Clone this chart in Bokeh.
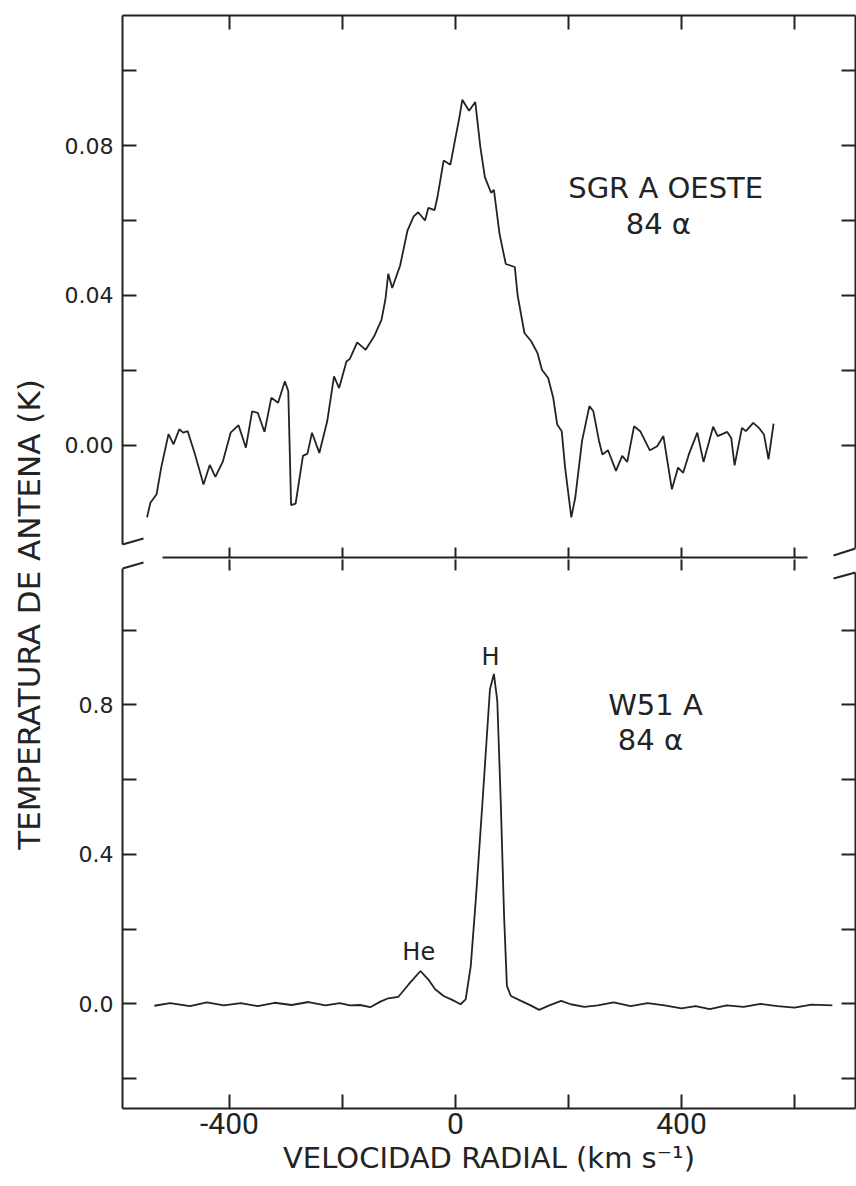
import math
from bokeh.plotting import figure
from bokeh.layouts import row, column
from bokeh.models import Range1d, FixedTicker, LinearAxis, NumeralTickFormatter
from bokeh.core.properties import value
from bokeh.embed import file_html
from bokeh.resources import INLINE

# ---------------- data ----------------
# SGR A OESTE, 84 alpha  (radial velocity km/s, antenna temperature K)
sgr_v = [-546, -540, -529, -521, -508, -499, -489, -482, -474, -461, -446, -435, -425, -412,
         -398, -384, -371, -360, -350, -338, -326, -314, -302, -296, -291, -283, -270, -262,
         -254, -241, -227, -215, -206, -193, -187, -174, -159, -144, -131, -124, -119, -112,
         -98, -85, -74, -66, -54, -48, -37, -32, -21, -9, -1, 7, 12, 24, 35, 44, 52, 63, 68,
         78, 89, 97, 105, 110, 116, 122, 134, 145, 153, 164, 173, 180, 188, 194, 205, 212,
         224, 237, 244, 254, 260, 270, 284, 295, 304, 316, 327, 344, 357, 368, 383, 394, 403,
         413, 428, 439, 456, 464, 481, 488, 494, 507, 514, 527, 537, 546, 554, 563]
sgr_t = [-0.0192, -0.0153, -0.0130, -0.0060, 0.0030, 0.0003, 0.0043, 0.0034, 0.0038, -0.0024,
         -0.0104, -0.0052, -0.0084, -0.0044, 0.0034, 0.0054, -0.0006, 0.0091, 0.0087, 0.0036,
         0.0127, 0.0114, 0.0171, 0.0145, -0.0159, -0.0155, -0.0028, -0.0022, 0.0034, -0.0020,
         0.0065, 0.0184, 0.0153, 0.0224, 0.0231, 0.0275, 0.0255, 0.0291, 0.0335, 0.0390,
         0.0458, 0.0420, 0.0480, 0.0573, 0.0611, 0.0622, 0.0600, 0.0634, 0.0628, 0.0662,
         0.0760, 0.0749, 0.0813, 0.0876, 0.0922, 0.0893, 0.0916, 0.0796, 0.0716, 0.0674,
         0.0682, 0.0564, 0.0484, 0.0480, 0.0476, 0.0400, 0.0350, 0.0300, 0.0278, 0.0247,
         0.0202, 0.0180, 0.0127, 0.0056, 0.0038, -0.0059, -0.0192, -0.0139, 0.0012, 0.0105,
         0.0091, 0.0012, -0.0024, -0.0013, -0.0068, -0.0028, -0.0044, 0.0051, 0.0038, -0.0013,
         -0.0002, 0.0025, -0.0117, -0.0059, -0.0073, -0.0024, 0.0034, -0.0044, 0.0050, 0.0025,
         0.0036, 0.0020, -0.0053, 0.0047, 0.0038, 0.0060, 0.0047, 0.0029, -0.0037, 0.0058]

# W51 A, 84 alpha
w51_v = [-533, -505, -470, -440, -410, -380, -350, -320, -290, -260, -230, -205, -187, -169,
         -151, -133, -119, -101, -83, -62, -48, -36, -21, -5, 9, 18, 27, 36, 48, 61, 68, 74,
         80, 86, 91, 98, 116, 133, 148, 166, 187, 204, 228, 252, 280, 310, 340, 370, 400, 425,
         450, 480, 510, 540, 570, 600, 630, 667]
w51_t = [-0.005, 0.002, -0.006, 0.004, -0.004, 0.002, -0.006, 0.003, -0.003, 0.005, -0.004,
         0.002, -0.004, -0.003, -0.009, 0.006, 0.015, 0.019, 0.052, 0.088, 0.065, 0.039, 0.021,
         0.010, -0.001, 0.012, 0.101, 0.280, 0.545, 0.842, 0.883, 0.810, 0.545, 0.235, 0.048,
         0.021, 0.008, -0.004, -0.016, -0.004, 0.008, -0.001, -0.008, -0.004, 0.004, -0.006,
         0.002, -0.004, -0.012, -0.006, -0.014, -0.004, -0.008, 0.000, -0.006, -0.010, -0.002,
         -0.004]

x_ticks = [-400, -200, 0, 200, 400, 600]
x_major = [-400, 0, 400]
x_minor = [-200, 200, 600]
top_major = [0.0, 0.04, 0.08]
top_minor = [0.02, 0.06, 0.10]
top_all = [0.0, 0.02, 0.04, 0.06, 0.08, 0.10]
bot_major = [0.0, 0.4, 0.8]
bot_minor = [-0.2, 0.2, 0.6, 1.0]
bot_all = [-0.2, 0.0, 0.2, 0.4, 0.6, 0.8, 1.0]

title_top = ["SGR A OESTE", "84 \u03b1"]
title_bot = ["W51 A", "84 \u03b1"]
line_labels = ["He", "H"]
x_label = "VELOCIDAD RADIAL (km s\u207b\u00b9)"
y_label = "TEMPERATURA DE ANTENA (K)"

# ---------------- geometry / style ----------------
X0, X1 = -589.4, 708.0
T0, T1 = -0.0299, 0.1147
B0, B1 = -0.28, 1.1893
INK = "#232323"
FONT = "DejaVu Sans"
NARROW = "Roboto"
W_MAIN = 806
PX_X = (X1 - X0) / 733.0          # data units per pixel in x
PX_T = (T1 - T0) / 542.0
PX_B = (B1 - B0) / 551.0


def axis(ticks, minor=None, tick_in=14, line=True, labels=False, fmt=None, bounds="auto",
         font=FONT, size="22px", standoff=9):
    if labels:
        ticker = FixedTicker(ticks=ticks, minor_ticks=minor or [])
    else:
        # unlabeled axes: draw every tick as a (label-free) minor tick
        ticker = FixedTicker(ticks=[], minor_ticks=ticks)
    ax = LinearAxis(ticker=ticker, bounds=bounds)
    ax.axis_line_color = INK if line else None
    ax.axis_line_width = 2
    ax.major_tick_in = tick_in
    ax.major_tick_out = 0
    ax.minor_tick_in = tick_in
    ax.minor_tick_out = 0
    ax.major_tick_line_color = INK
    ax.minor_tick_line_color = INK
    ax.major_tick_line_width = 2
    ax.minor_tick_line_width = 2
    if labels:
        if fmt:
            ax.formatter = NumeralTickFormatter(format=fmt)
        ax.major_label_text_font = font
        ax.major_label_text_font_size = size
        ax.major_label_text_color = INK
        ax.major_label_standoff = standoff
    else:
        ax.major_label_standoff = 0
    return ax


def base(height, yr, mb_top, mb_bottom):
    p = figure(width=W_MAIN, height=height, x_range=Range1d(X0, X1), y_range=yr,
               output_backend="svg", toolbar_location=None,
               x_axis_location=None, y_axis_location=None,
               min_border_left=72, min_border_right=1,
               min_border_top=mb_top, min_border_bottom=mb_bottom)
    p.outline_line_color = None
    p.grid.visible = False
    p.background_fill_color = "white"
    p.border_fill_color = "white"
    return p


# ---------------- top panel ----------------
top = base(559, Range1d(T0, T1), 15, 2)
top.add_layout(axis(top_major, top_minor, labels=True, fmt="0.00",
                    bounds=(T0 + 13 * PX_T, T1)), "left")
top.add_layout(axis(top_all, bounds=(T0 + 9 * PX_T, T1)), "right")
top.add_layout(axis(x_ticks, tick_in=14), "above")
top.add_layout(axis(x_ticks, tick_in=10, bounds=(X0 + 40 * PX_X, X1 - 48 * PX_X)), "below")
top.line(sgr_v, sgr_t, line_color=INK, line_width=1.8)
# axis-break hooks
top.segment(x0=[X0, X1], y0=[T0 + 13 * PX_T, T0 + 9 * PX_T],
            x1=[X0 + 21 * PX_X, X1 - 22 * PX_X], y1=[T0 + 19 * PX_T, T0 + 2 * PX_T],
            line_color=INK, line_width=2)
top.text(x=[372, 359], y=[0.0687, 0.0592], text=title_top, text_font=value(FONT),
         text_font_size="29px", text_align="center", text_baseline="middle", text_color=INK)

# ---------------- bottom panel ----------------
bot = base(627, Range1d(B0, B1), 0, 78)
bot.add_layout(axis(bot_major, bot_minor, labels=True, fmt="0.0",
                    bounds=(B0, B1 - 9 * PX_B)), "left")
bot.add_layout(axis(bot_all, bounds=(B0, B1 - 13 * PX_B)), "right")
bot.add_layout(axis(x_ticks, tick_in=11, line=False,
                    bounds=(X0 + 40 * PX_X, X1 - 48 * PX_X)), "above")
xb = axis(x_major, x_minor, labels=True, fmt="0", font=NARROW, size="30px", standoff=4)
xb.axis_label = x_label
xb.axis_label_text_font = FONT
xb.axis_label_text_font_size = "29px"
xb.axis_label_text_font_style = "normal"
xb.axis_label_text_color = INK
xb.axis_label_standoff = 4
bot.add_layout(xb, "below")
bot.line(w51_v, w51_t, line_color=INK, line_width=1.8)
bot.segment(x0=[X0, X1], y0=[B1 - 9 * PX_B, B1 - 13 * PX_B],
            x1=[X0 + 21 * PX_X, X1 - 22 * PX_X], y1=[B1 - 3 * PX_B, B1 - 19 * PX_B],
            line_color=INK, line_width=2)
bot.text(x=[354, 345], y=[0.80, 0.7067], text=title_bot, text_font=value(FONT),
         text_font_size="29px", text_align="center", text_baseline="middle", text_color=INK)
bot.text(x=[-65, 62], y=[0.139, 0.928], text=line_labels, text_font=value(FONT),
         text_font_size="24px", text_align="center", text_baseline="middle", text_color=INK)

# ---------------- y label strip ----------------
ylab = figure(width=50, height=1186, x_range=Range1d(0, 50), y_range=Range1d(0, 1186),
              output_backend="svg", toolbar_location=None,
              x_axis_location=None, y_axis_location=None,
              min_border=0, min_border_left=0, min_border_right=0,
              min_border_top=0, min_border_bottom=0)
ylab.outline_line_color = None
ylab.grid.visible = False
ylab.text(x=[28], y=[1186 - 614], text=[y_label], angle=math.pi / 2,
          text_font=value(FONT), text_font_size="31px", text_align="center",
          text_baseline="middle", text_color=INK)

layout = row(ylab, column(top, bot, spacing=0), spacing=0)
open("out.html", "w").write(file_html(layout, INLINE))
